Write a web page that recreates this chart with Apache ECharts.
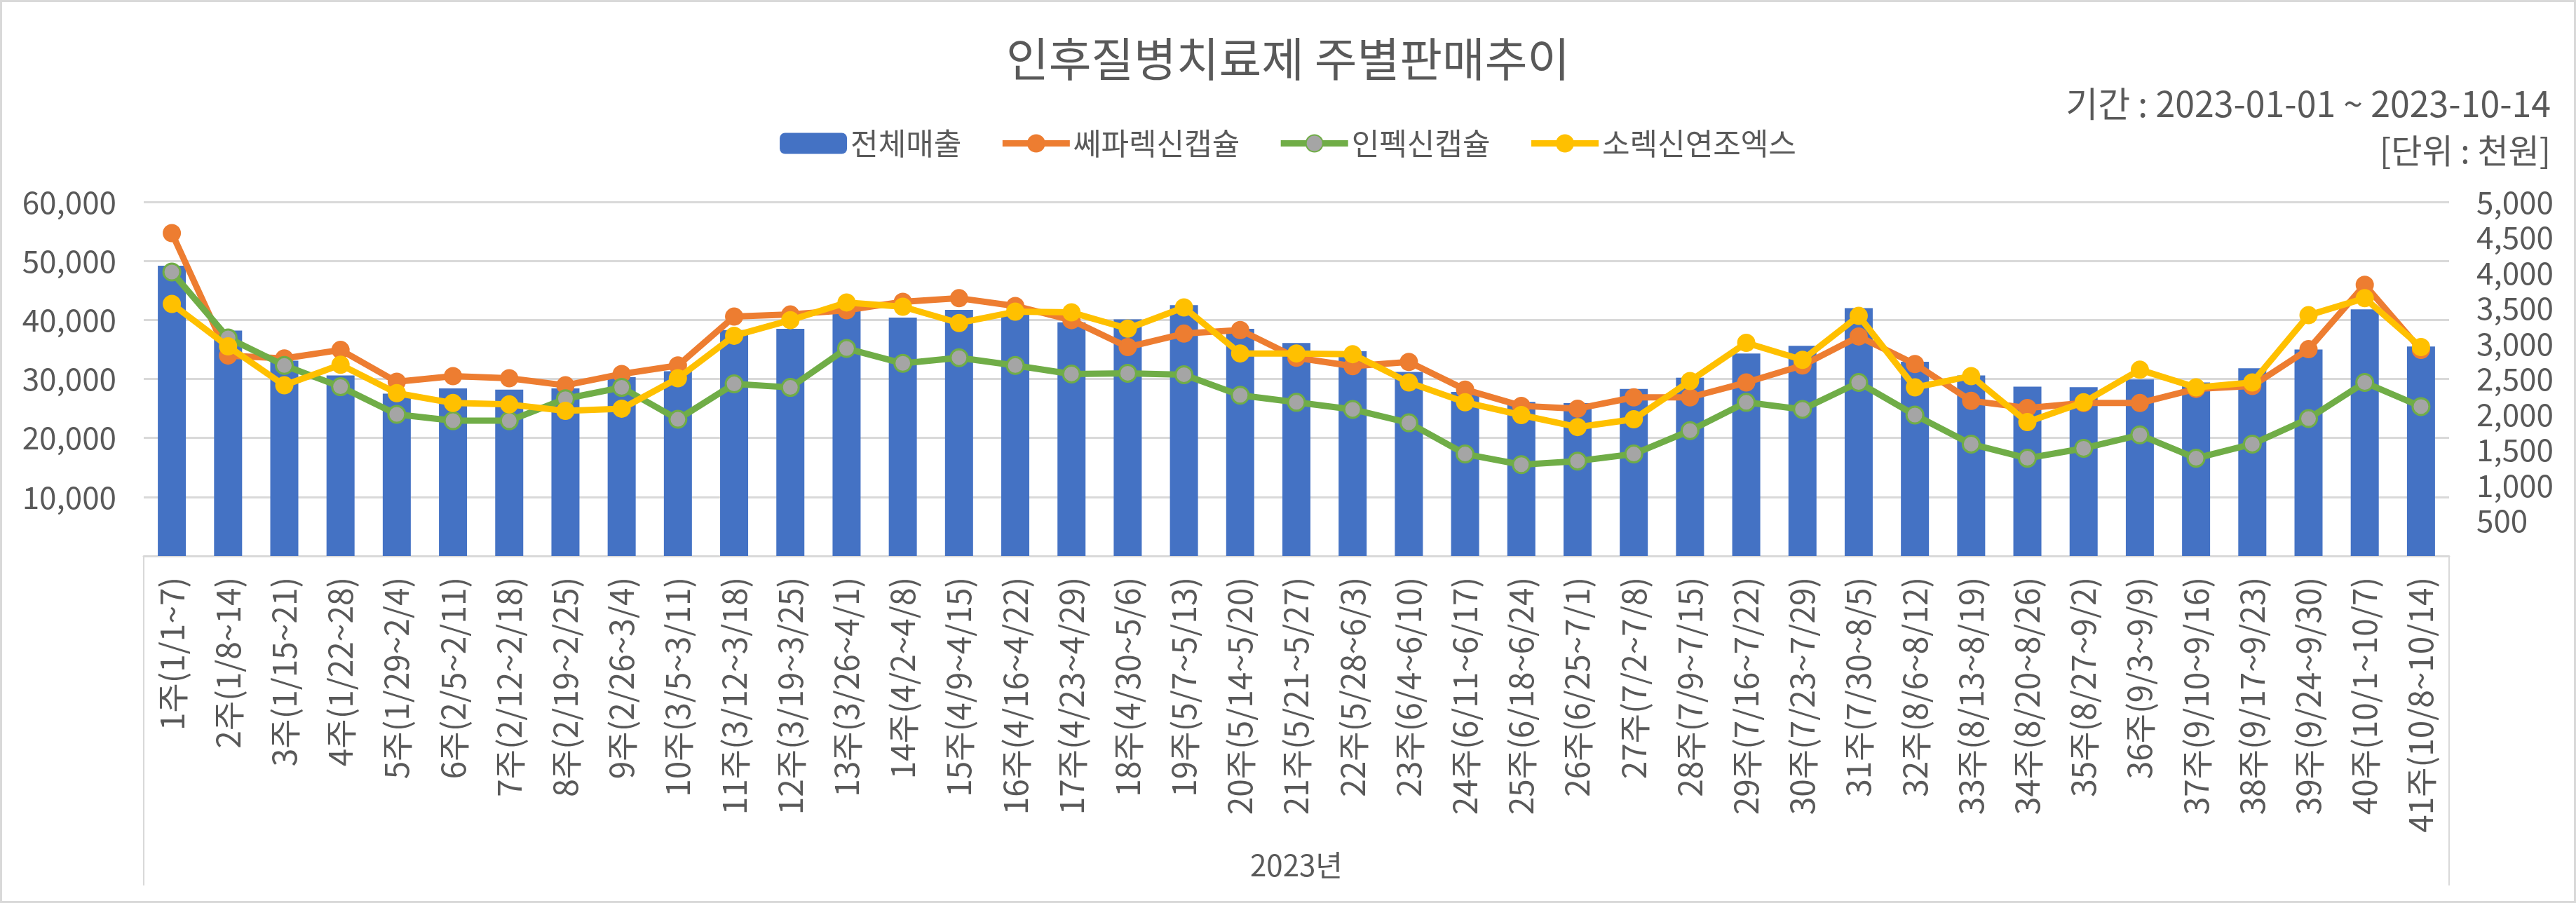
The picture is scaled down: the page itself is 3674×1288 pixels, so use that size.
<!DOCTYPE html>
<html><head><meta charset="utf-8">
<script src="https://cdn.jsdelivr.net/npm/echarts@6/dist/echarts.min.js"></script>
<style>html,body{margin:0;padding:0;background:#fff}#c{width:3674px;height:1288px}</style>
</head><body><div id="c"></div>
<script>
const weeks = ['1주(1/1~7)','2주(1/8~14)','3주(1/15~21)','4주(1/22~28)','5주(1/29~2/4)','6주(2/5~2/11)','7주(2/12~2/18)','8주(2/19~2/25)','9주(2/26~3/4)','10주(3/5~3/11)','11주(3/12~3/18)','12주(3/19~3/25)','13주(3/26~4/1)','14주(4/2~4/8)','15주(4/9~4/15)','16주(4/16~4/22)','17주(4/23~4/29)','18주(4/30~5/6)','19주(5/7~5/13)','20주(5/14~5/20)','21주(5/21~5/27)','22주(5/28~6/3)','23주(6/4~6/10)','24주(6/11~6/17)','25주(6/18~6/24)','26주(6/25~7/1)','27주(7/2~7/8)','28주(7/9~7/15)','29주(7/16~7/22)','30주(7/23~7/29)','31주(7/30~8/5)','32주(8/6~8/12)','33주(8/13~8/19)','34주(8/20~8/26)','35주(8/27~9/2)','36주(9/3~9/9)','37주(9/10~9/16)','38주(9/17~9/23)','39주(9/24~9/30)','40주(10/1~10/7)','41주(10/8~10/14)'];
const yearGroup = ['2023년'];
const total = [49200,38200,33100,30600,27500,28400,28200,28400,30300,31300,38300,38500,41800,40400,41700,41100,39600,40100,42500,38500,36100,34700,31200,27800,26100,25900,28300,30200,34300,35600,42000,32900,30600,28700,28600,29900,29400,31800,35000,41800,35500];
const cefa = [4560,2830,2790,2910,2460,2540,2510,2410,2570,2690,3380,3410,3470,3590,3640,3530,3330,2950,3140,3190,2800,2680,2740,2350,2120,2080,2240,2240,2450,2690,3100,2710,2190,2090,2160,2160,2360,2400,2920,3830,2910];
const infec = [4010,3080,2690,2390,2000,1910,1910,2220,2380,1930,2430,2380,2930,2720,2800,2690,2570,2580,2560,2270,2170,2070,1880,1440,1290,1340,1440,1770,2170,2070,2450,1990,1580,1380,1520,1710,1380,1580,1940,2450,2110];
const sorex = [3560,2960,2410,2700,2300,2160,2140,2050,2080,2510,3110,3330,3580,3520,3290,3450,3440,3210,3510,2860,2860,2850,2450,2170,1990,1820,1930,2470,3010,2770,3390,2380,2540,1890,2170,2630,2380,2450,3400,3640,2950];
const leftTicks = {min:0, max:60000, interval:10000};
const rightTicks = {min:0, max:5000, interval:500};

const FONT = '"Noto Sans CJK KR","Noto Sans",sans-serif';
const GRAY = '#595959';
const fmt = v => v === 0 ? '' : v.toLocaleString('en-US');
const gridPos = {left:205, right:181, top:288, bottom:495};
const LW = 9;

const chart = echarts.init(document.getElementById('c'));
chart.setOption({
  backgroundColor:'#fff',
  textStyle:{fontFamily:FONT},
  title:[
    {text:'인후질병치료제 주별판매추이', left:'center', top:46, textStyle:{fontFamily:FONT, fontSize:66, fontWeight:'normal', color:GRAY}},
    {text:'기간 : 2023-01-01 ~ 2023-10-14', right:31, top:118, textStyle:{fontFamily:FONT, fontSize:50, fontWeight:'normal', color:GRAY}},
    {text:'[단위 : 천원]', right:31, top:186, textStyle:{fontFamily:FONT, fontSize:48, fontWeight:'normal', color:GRAY}}
  ],
  legend:{
    top:178, left:'center', itemWidth:96, itemHeight:30, itemGap:54,
    textStyle:{fontFamily:FONT, fontSize:43, color:GRAY},
    lineStyle:{width:LW},
    data:['전체매출','쎄파렉신캡슐','인펙신캡슐','소렉신연조엑스']
  },
  graphic:[{type:'rect', shape:{x:1.5, y:1.5, width:3671, height:1285}, style:{fill:'none', stroke:'#d9d9d9', lineWidth:3}, silent:true, z:-1}],
  grid:[Object.assign({}, gridPos), Object.assign({}, gridPos)],
  xAxis:[
    {type:'category', gridIndex:0, data:weeks,
     axisLine:{lineStyle:{color:'#d9d9d9', width:3}},
     axisTick:{show:false},
     axisLabel:{rotate:90, interval:0, margin:30, fontSize:46, color:GRAY, fontFamily:FONT}},
    {type:'category', gridIndex:1, data:yearGroup, position:'bottom',
     axisLine:{show:false},
     axisTick:{show:true, length:470, interval:0, lineStyle:{color:'#d9d9d9', width:2}},
     axisLabel:{margin:420, fontSize:42, color:GRAY, fontFamily:FONT}}
  ],
  yAxis:[
    {type:'value', gridIndex:0, min:leftTicks.min, max:leftTicks.max, interval:leftTicks.interval,
     axisLine:{show:false}, axisTick:{show:false},
     splitLine:{lineStyle:{color:'#d9d9d9', width:3}},
     axisLabel:{formatter:fmt, fontSize:44, color:GRAY, margin:39, fontFamily:FONT}},
    {type:'value', gridIndex:0, position:'right', min:rightTicks.min, max:rightTicks.max, interval:rightTicks.interval,
     axisLine:{show:false}, axisTick:{show:false}, splitLine:{show:false},
     axisLabel:{formatter:fmt, fontSize:44, color:GRAY, margin:39, fontFamily:FONT}},
    {type:'value', gridIndex:1, show:false}
  ],
  series:[
    {name:'전체매출', type:'bar', xAxisIndex:0, yAxisIndex:0, data:total, barWidth:40,
     itemStyle:{color:'#4472C4'}},
    {name:'쎄파렉신캡슐', type:'line', xAxisIndex:0, yAxisIndex:1, data:cefa,
     symbol:'circle', symbolSize:24, lineStyle:{color:'#ED7D31', width:LW},
     itemStyle:{color:'#ED7D31', borderColor:'#ED7D31', borderWidth:2}, z:3},
    {name:'인펙신캡슐', type:'line', xAxisIndex:0, yAxisIndex:1, data:infec,
     symbol:'circle', symbolSize:24, lineStyle:{color:'#70AD47', width:LW},
     itemStyle:{color:'#A5A5A5', borderColor:'#70AD47', borderWidth:3}, z:4},
    {name:'소렉신연조엑스', type:'line', xAxisIndex:0, yAxisIndex:1, data:sorex,
     symbol:'circle', symbolSize:24, lineStyle:{color:'#FFC000', width:LW},
     itemStyle:{color:'#FFC000', borderColor:'#FFC000', borderWidth:2}, z:5}
  ],
  animation:false
});
</script></body></html>
